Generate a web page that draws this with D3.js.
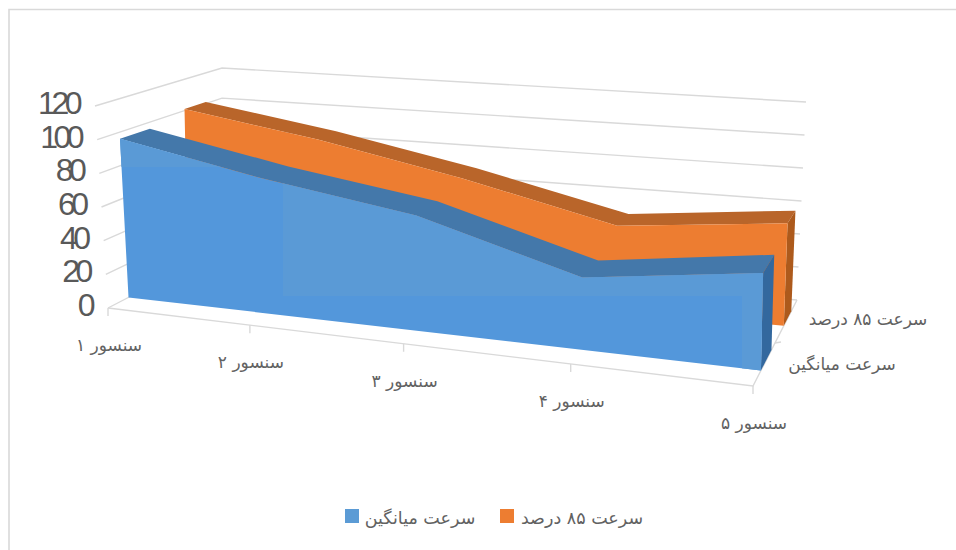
<!DOCTYPE html>
<html>
<head>
<meta charset="utf-8">
<script src="https://cdn.jsdelivr.net/npm/d3@7"></script>
<style>
  html, body { margin: 0; padding: 0; background: #fff; }
  svg { display: block; }
  .fa { font-family: "DejaVu Sans", sans-serif; fill: #626262; direction: rtl; text-anchor: middle; }
</style>
</head>
<body>
<div id="chart"></div>
<script>
// Sensor speed readings
const categories = ["سنسور ۱", "سنسور ۲", "سنسور ۳", "سنسور ۴", "سنسور ۵"];
const meanSpeed = [96, 80, 67, 41, 54];
const speed85 = [101, 88, 71, 50, 60];
const seriesNames = ["سرعت میانگین", "سرعت ۸۵ درصد"];
const valueTicks = [0, 20, 40, 60, 80, 100, 120];

const width = 956, height = 550;
const svg = d3.select("#chart").append("svg").attr("width", width).attr("height", height);

// Corners of the 3D plot box on screen
const box = {
  lfb: [108, 308], lft: [95, 106],
  lbb: [222, 249], lbt: [222, 68],
  rfb: [753, 386], rft: [757, 165],
  rbb: [797, 300], rbt: [806, 102]
};
const lerp = (a, b, t) => [a[0] + (b[0] - a[0]) * t, a[1] + (b[1] - a[1]) * t];

const catScale = d3.scalePoint().domain(categories).range([0, 1]);
const valScale = d3.scaleLinear().domain([0, 120]).range([0, 1]);

// Foreshortening along the category axis
const warp = u => u / (u + (1 - u) * 1.182);

// Place a (category fraction, height fraction, depth fraction) point on screen
function project(u, h, d) {
  const t = warp(u);
  const frontB = lerp(box.lfb, box.rfb, t), frontT = lerp(box.lft, box.rft, t);
  const backB = lerp(box.lbb, box.rbb, t), backT = lerp(box.lbt, box.rbt, t);
  return lerp(lerp(frontB, backB, d), lerp(frontT, backT, d), h);
}

const line = d3.line();
const closed = d3.line().curve(d3.curveLinearClosed);
const gridColor = "#d9d9d9";

// Chart frame: left and top edges only, running off the page
svg.append("path").attr("fill", "none").attr("stroke", "#d9d9d9").attr("stroke-width", 1.6)
  .attr("d", line([[9, 550], [9, 9.5], [956, 9.5]]));

// Gridlines across the side wall and back wall
const grid = svg.append("g").attr("fill", "none").attr("stroke", gridColor).attr("stroke-width", 1.4);
valueTicks.forEach(v => {
  const h = valScale(v);
  grid.append("path").attr("d", line([project(0, h, 0), project(0, h, 1), project(1, h, 1)]));
});

// Floor edges and axis ticks
const floor = svg.append("g").attr("fill", "none").attr("stroke", gridColor).attr("stroke-width", 1.4);
floor.append("path").attr("d", line([project(0, 0, 0), project(1, 0, 0), project(1, 0, 1)]));
categories.forEach(c => {
  const p = project(catScale(c), 0, 0);
  floor.append("path").attr("d", line([p, [p[0], p[1] + 8]]));
});
[0.5].forEach(d => {
  const p = project(1, 0, d);
  floor.append("path").attr("d", line([p, [p[0] + 6, p[1] - 1]]));
});

// One ribbon of the 3D area chart
function drawSeries(values, d0, d1, c) {
  const g = svg.append("g");
  const us = categories.map(catScale);
  const frontTop = values.map((v, i) => project(us[i], valScale(v), d0));
  const backTop = values.map((v, i) => project(us[i], valScale(v), d1));
  const frontBase = [project(1, 0, d0), project(0, 0, d0)];
  const last = values.length - 1;

  g.append("path").attr("fill", c.top)
    .attr("d", closed(frontTop.concat(backTop.slice().reverse())));
  g.append("path").attr("fill", c.side)
    .attr("d", closed([frontTop[last], backTop[last], project(1, 0, d1), project(1, 0, d0)]));
  g.append("path").attr("fill", c.front)
    .attr("d", closed(frontTop.concat(frontBase)));
  return closed(frontTop.concat(frontBase));
}

drawSeries(speed85, 0.70, 0.87, { front: "#ed7d31", top: "#b9652a", side: "#ad5a1c" });
const blueFace = drawSeries(meanSpeed, 0.18, 0.42, { front: "#5397db", top: "#4478aa", side: "#33689e" });

// Slightly paler patches on the blue face
svg.append("defs").append("clipPath").attr("id", "blueClip").append("path").attr("d", blueFace);
const patches = svg.append("g").attr("clip-path", "url(#blueClip)").attr("fill", "#5a9ad6");
patches.append("rect").attr("x", 100).attr("y", 120).attr("width", 183).attr("height", 47);
patches.append("rect").attr("x", 283).attr("y", 120).attr("width", 459).attr("height", 176);
patches.append("rect").attr("x", 742).attr("y", 120).attr("width", 40).attr("height", 260);

// Value axis labels
const valueAxis = svg.append("g").attr("fill", "#595959")
  .attr("font-family", "'Liberation Sans', sans-serif").attr("font-size", 32)
  .attr("letter-spacing", -4.5).attr("text-anchor", "end");
valueTicks.forEach(v => {
  const p = project(0, valScale(v), 0);
  valueAxis.append("text").attr("x", p[0] - 17).attr("y", p[1] - 3)
    .attr("dominant-baseline", "central").text(v);
});

// Category labels under the front edge
categories.forEach(c => {
  const p = project(catScale(c), 0, 0);
  svg.append("text").attr("class", "fa").attr("font-size", 17)
    .attr("x", p[0] + 1).attr("y", p[1] + 37).attr("dominant-baseline", "central").text(c);
});

// Depth axis labels
svg.append("text").attr("class", "fa").attr("font-size", 17).attr("x", 868).attr("y", 319)
  .attr("dominant-baseline", "central").text(seriesNames[1]);
svg.append("text").attr("class", "fa").attr("font-size", 17).attr("x", 842).attr("y", 364)
  .attr("dominant-baseline", "central").text(seriesNames[0]);

// Legend
const legendItems = [
  { name: seriesNames[0], color: "#5b9bd5", sx: 345, tx: 420 },
  { name: seriesNames[1], color: "#ed7d31", sx: 500, tx: 582 }
];
legendItems.forEach(it => {
  svg.append("rect").attr("x", it.sx).attr("y", 509).attr("width", 14).attr("height", 14).attr("fill", it.color);
  svg.append("text").attr("class", "fa").attr("font-size", 17.5).attr("x", it.tx).attr("y", 518)
    .attr("dominant-baseline", "central").text(it.name);
});
</script>
</body>
</html>
